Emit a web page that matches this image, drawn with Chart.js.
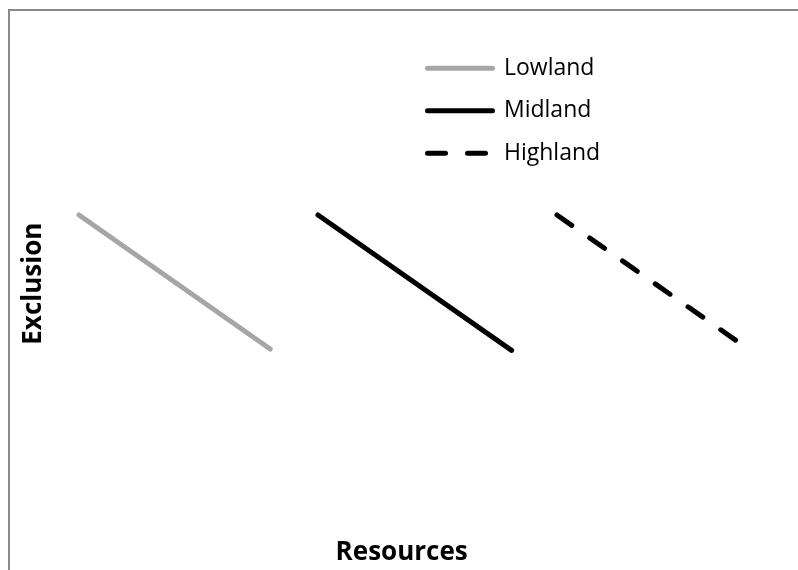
<!DOCTYPE html>
<html>
<head>
<meta charset="utf-8">
<script src="https://cdn.jsdelivr.net/npm/chart.js@4"></script>
<style>
  html, body { margin: 0; padding: 0; background: #fff; overflow: hidden; }
  #wrap { position: relative; width: 798px; height: 570px; }
  #c { position: absolute; left: 0; top: 0; }
  #frame { position: absolute; left: 8px; top: 9px; width: 790px; height: 561px;
           border-left: 2px solid #898989; border-top: 2px solid #898989; pointer-events: none; }
</style>
</head>
<body>
<div id="wrap">
  <canvas id="c" width="798" height="570"></canvas>
  <div id="frame"></div>
</div>
<script>
// Series labels
const seriesNames = ['Lowland', 'Midland', 'Highland'];
// Endpoint values (x = resources, y = exclusion)
const lowlandX = [1.0, 1.80];
const lowlandY = [8.0, 6.0];
const midlandX = [2.0, 2.81];
const midlandY = [8.0, 5.98];
const highlandX = [3.0, 3.76];
const highlandY = [8.0, 6.1];
// Axis titles
const xTitle = 'Resources';
const yTitle = 'Exclusion';

function pts(xs, ys) { return xs.map((x, i) => ({ x: x, y: ys[i] })); }

Chart.defaults.color = '#000';
Chart.defaults.font.family = "'Open Sans', 'DejaVu Sans', sans-serif";

const legendPlacer = {
  id: 'legendPlacer',
  afterLayout(chart) {
    const lg = chart.legend;
    if (!lg) return;
    lg.left = 408;
    lg.top = 37.2;
    lg.right = 798;
    lg.bottom = 570;
  }
};

new Chart(document.getElementById('c'), {
  type: 'line',
  data: {
    datasets: [
      { label: seriesNames[0], data: pts(lowlandX, lowlandY), borderColor: '#a6a6a6', backgroundColor: '#a6a6a6',
        borderWidth: 5, borderCapStyle: 'round', pointRadius: 0, fill: false, tension: 0 },
      { label: seriesNames[1], data: pts(midlandX, midlandY), borderColor: '#000000', backgroundColor: '#000000',
        borderWidth: 5, borderCapStyle: 'round', pointRadius: 0, fill: false, tension: 0 },
      { label: seriesNames[2], data: pts(highlandX, highlandY), borderColor: '#000000', backgroundColor: '#000000',
        borderWidth: 5, borderCapStyle: 'round', borderDash: [18, 22], pointRadius: 0, fill: false, tension: 0 }
    ]
  },
  options: {
    responsive: false,
    animation: false,
    devicePixelRatio: 1,
    layout: { padding: { left: 10, right: 49.8, top: 40.8, bottom: 0 } },
    plugins: {
      tooltip: { enabled: false },
      legend: {
        position: 'chartArea',
        align: 'start',
        labels: {
          usePointStyle: true,
          pointStyle: 'line',
          pointStyleWidth: 65,
          padding: 19.5,
          color: '#000',
          font: { size: 23, family: "'Open Sans', sans-serif" },
          generateLabels(chart) {
            const items = Chart.defaults.plugins.legend.labels.generateLabels(chart);
            items.forEach(it => {
              const ds = chart.data.datasets[it.datasetIndex];
              it.strokeStyle = ds.borderColor;
              it.lineWidth = ds.borderWidth;
              it.lineCap = ds.borderCapStyle;
              it.lineDash = ds.borderDash || [];
              it.lineDashOffset = 0;
            });
            return items;
          }
        }
      }
    },
    scales: {
      x: {
        type: 'linear',
        min: 0.9,
        max: 3.8,
        grid: { display: false, drawTicks: false },
        border: { display: false },
        ticks: { display: false },
        title: { display: true, text: xTitle, color: '#000',
                 font: { size: 26, weight: 'bold', family: "'Open Sans', sans-serif" },
                 padding: { top: 10.25, bottom: 2 } }
      },
      y: {
        type: 'linear',
        min: 3.35,
        max: 10.6,
        grid: { display: false, drawTicks: false },
        border: { display: false },
        ticks: { display: false },
        title: { display: true, text: yTitle, color: '#000',
                 font: { size: 26, weight: 'bold', family: "'Open Sans', sans-serif" },
                 padding: { top: 8.4, bottom: 5.5 } }
      }
    }
  },
  plugins: [legendPlacer]
});
</script>
</body>
</html>
